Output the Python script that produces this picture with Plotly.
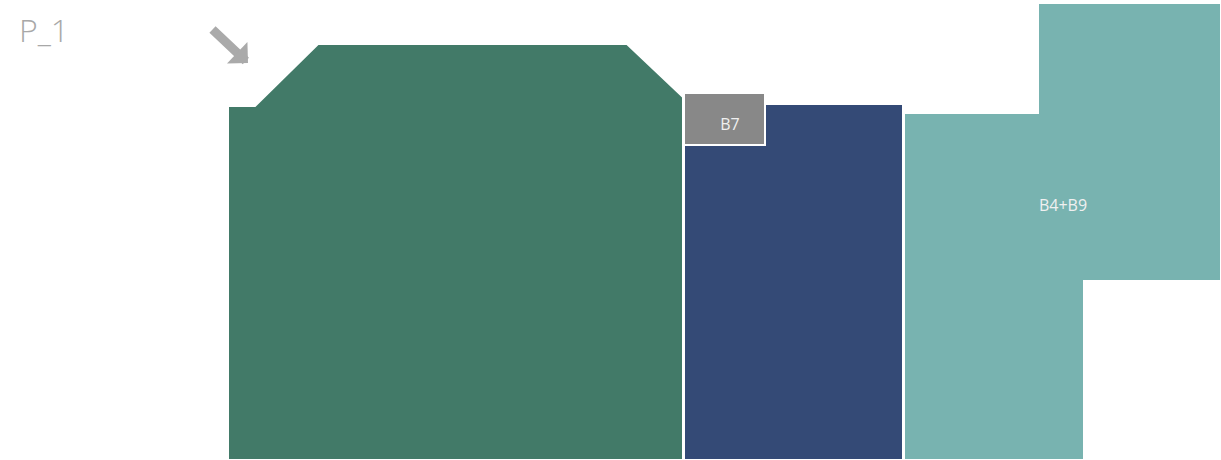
import plotly.graph_objects as go

# Floor-plan blocks (plan coordinates, y grows downward)
names = ["B_green", "B8", "B4+B9", "B7"]
colors = ["#427A68", "#344A76", "#78B3B0", "#888888"]
green_x = [229, 255, 318, 627, 683, 683, 229]
green_y = [106, 106, 44, 44, 97, 460, 460]
navy_x = [685, 903, 903, 685]
navy_y = [104, 104, 460, 460]
teal_x = [905, 1038, 1038, 1221, 1221, 1084, 1084, 905]
teal_y = [113, 113, 3, 3, 281, 281, 460, 460]
b7_x = [685, 765, 765, 685]
b7_y = [93, 93, 145, 145]

labels = ["B7", "B4+B9"]
label_x = [730, 1063]
label_y = [126, 207]

title_text = "P_1"

fig = go.Figure()
for xs, ys, c, n in [(green_x, green_y, colors[0], names[0]),
                     (navy_x, navy_y, colors[1], names[1]),
                     (teal_x, teal_y, colors[2], names[2]),
                     (b7_x, b7_y, colors[3], names[3])]:
    fig.add_trace(go.Scatter(x=xs, y=ys, fill="toself", fillcolor=c, mode="lines",
                             line=dict(color="white", width=2), name=n,
                             hoverinfo="skip", showlegend=False))

fig.add_trace(go.Scatter(x=label_x, y=label_y, text=labels, mode="text",
                         textfont=dict(color="#F0F0F0", size=16, family="Open Sans"),
                         hoverinfo="skip", showlegend=False))

fig.add_annotation(x=17, y=29, text=title_text, showarrow=False, xanchor="left",
                   font=dict(color="#A8A8A8", size=32, family="Open Sans", weight=300))
fig.add_annotation(x=248, y=63, ax=211, ay=28, axref="x", ayref="y", xref="x", yref="y",
                   text="", showarrow=True, arrowhead=1, arrowwidth=9, arrowsize=0.55,
                   arrowcolor="#AAAAAA")

fig.update_layout(width=1221, height=460, margin=dict(l=0, r=0, t=0, b=0),
                  plot_bgcolor="white", paper_bgcolor="white",
                  xaxis=dict(range=[0, 1221], visible=False, fixedrange=True),
                  yaxis=dict(range=[460, 0], visible=False, fixedrange=True))

fig.write_html("out.html", config={"displayModeBar": False},
               post_script="document.body.style.margin='0';document.body.style.overflow='hidden';")
